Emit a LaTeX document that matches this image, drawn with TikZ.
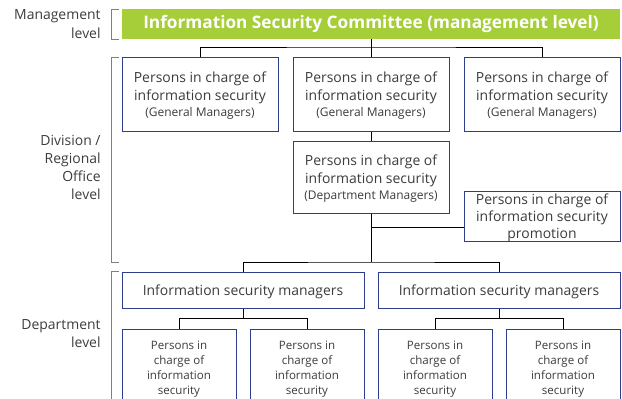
\documentclass[tikz,border=0pt]{standalone}
\usepackage{fontspec}
\setmainfont{Open Sans}
\definecolor{boxblue}{RGB}{46,61,140}
\definecolor{lime}{RGB}{166,206,57}
\definecolor{txt}{RGB}{60,60,60}
\begin{document}
\begin{tikzpicture}[x=1bp,y=-1bp,line width=0.8pt]
\tikzstyle{unit}=[draw=boxblue, line width=1pt, fill=white, inner sep=0pt, align=center, text=txt, font=\fontsize{14}{18.3}\selectfont]
\tikzstyle{level}=[anchor=east, align=right, inner sep=0pt, text=txt, font=\fontsize{14}{18.3}\selectfont]
\tikzstyle{bracket}=[draw=gray, line width=1pt]
\useasboundingbox (0,0) rectangle (622,398);

\node[fill=lime, minimum width=498bp, minimum height=30bp, inner sep=0pt, text=white, font=\fontsize{17.3}{18}\selectfont\bfseries] (com) at (371,24) {Information Security Committee (management level)};

\node[unit, minimum width=156bp, minimum height=74bp, text depth=-1.5pt] (gm1) at (200,94) {Persons in charge of\\information security\\[-2pt]{\fontsize{12}{14}\selectfont (General Managers)}};
\node[unit, minimum width=156bp, minimum height=74bp, text depth=-1.5pt] (gm2) at (371,94) {Persons in charge of\\information security\\[-2pt]{\fontsize{12}{14}\selectfont (General Managers)}};
\node[unit, minimum width=156bp, minimum height=74bp, text depth=-1.5pt] (gm3) at (542,94) {Persons in charge of\\information security\\[-2pt]{\fontsize{12}{14}\selectfont (General Managers)}};
\node[unit, minimum width=156bp, minimum height=72bp, text depth=-1.5pt] (dm) at (371,177) {Persons in charge of\\information security\\[-2pt]{\fontsize{12}{14}\selectfont (Department Managers)}};
\node[unit, minimum width=156bp, minimum height=50bp, text depth=-1pt, font=\fontsize{14}{17}\selectfont] (pr) at (542,216) {Persons in charge of\\information security\\promotion};

\node[unit, minimum width=242bp, minimum height=36bp, text depth=0pt] (im1) at (243,290) {Information security managers};
\node[unit, minimum width=242bp, minimum height=36bp, text depth=0pt] (im2) at (499,290) {Information security managers};

\node[unit, minimum width=114bp, minimum height=78bp, text depth=0pt, font=\fontsize{11.6}{15}\selectfont] (ps1) at (179,368) {Persons in\\charge of\\information\\security};
\node[unit, minimum width=114bp, minimum height=78bp, text depth=0pt, font=\fontsize{11.6}{15}\selectfont] (ps2) at (307,368) {Persons in\\charge of\\information\\security};
\node[unit, minimum width=114bp, minimum height=78bp, text depth=0pt, font=\fontsize{11.6}{15}\selectfont] (ps3) at (435,368) {Persons in\\charge of\\information\\security};
\node[unit, minimum width=114bp, minimum height=78bp, text depth=0pt, font=\fontsize{11.6}{15}\selectfont] (ps4) at (563,368) {Persons in\\charge of\\information\\security};

% junctions
\coordinate (j1) at (371,47);
\coordinate (j2) at (371,227);
\coordinate (j3) at (371,262);
\coordinate (j4) at (243,318.5);
\coordinate (j5) at (499,318.5);

\draw (com.south) -- (gm2.north);
\draw (gm1.north) |- (j1) -| (gm3.north);
\draw (gm2.south) -- (dm.north);
\draw (dm.south) -- (j3);
\draw (j2) -- (j2 -| pr.west);
\draw (im1.north) |- (j3) -| (im2.north);
\draw (im1.south) -- (j4);
\draw (ps1.north) |- (j4) -| (ps2.north);
\draw (im2.south) -- (j5);
\draw (ps3.north) |- (j5) -| (ps4.north);

% levels
\draw[bracket] (119,9) -- (111,9) -- (111,39) -- (119,39);
\draw[bracket] (119,57) -- (111,57) -- (111,262) -- (119,262);
\draw[bracket] (119,271) -- (111,271) -- (111,410);
\node[level] (lmg) at (101,24) {Management\\level};
\node[level] (ldv) at (101,167.5) {Division /\\Regional\\Office\\level};
\node[level] (ldp) at (101,333.5) {Department\\level};
\end{tikzpicture}
\end{document}
